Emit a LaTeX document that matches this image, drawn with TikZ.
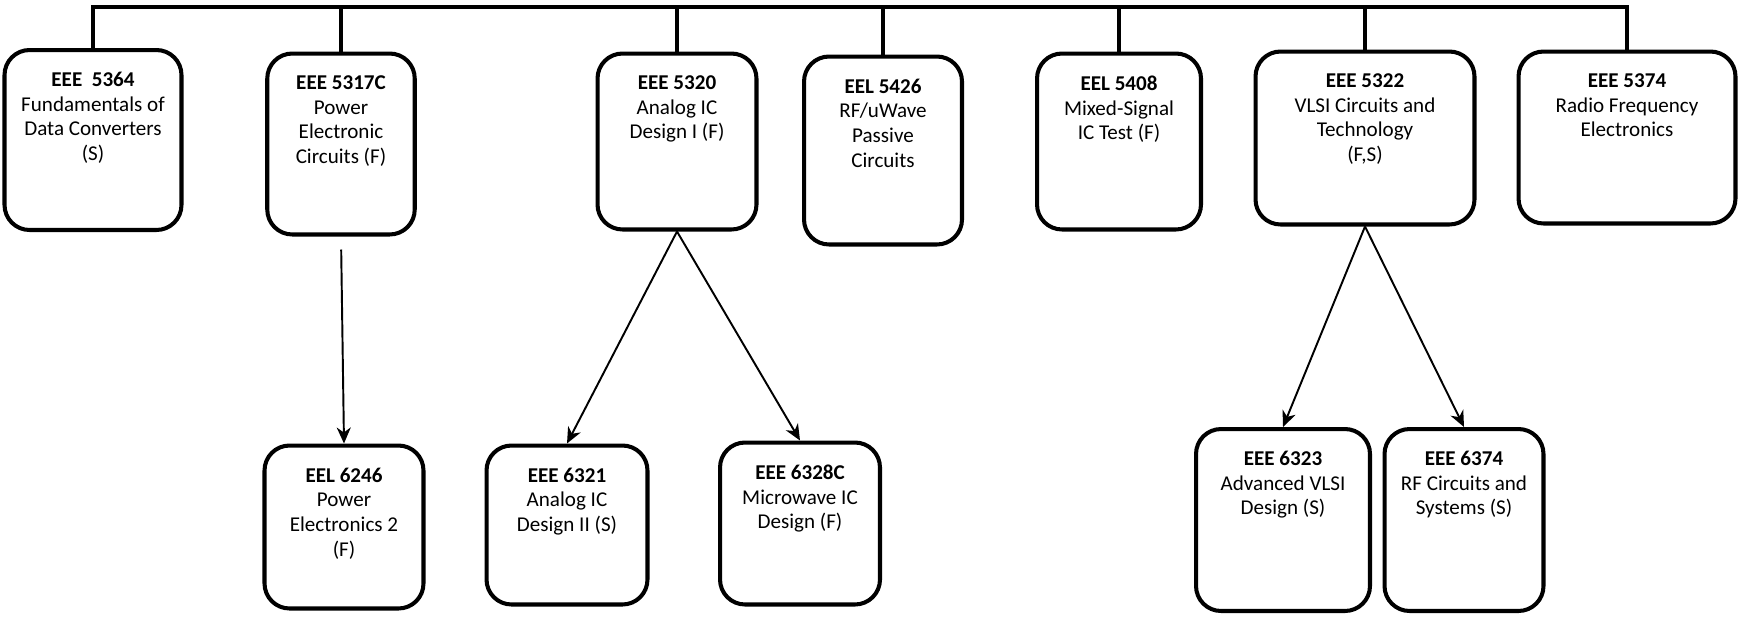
\documentclass[tikz,border=0pt]{standalone}
\usepackage{fontspec}
\setmainfont{Carlito}
\usetikzlibrary{arrows.meta}
\tikzset{
  course/.style={draw, line width=2.3pt, rounded corners=0.5cm, inner sep=0pt},
  ctext/.style={anchor=north, align=center, inner sep=0pt, yshift=-0.48cm,
    font=\fontsize{12pt}{14pt}\selectfont},
  bus/.style={line width=1.8pt},
  prereq/.style={line width=1.1pt, -{Stealth[length=0.32cm, width=0.28cm, inset=0.1cm]}}
}

\begin{document}
\begin{tikzpicture}[x=0.02cm, y=-0.02cm]
			%%%%% START %%%%%
			\useasboundingbox (0, 0) rectangle (1740, 616);
			\coordinate (top) at (0, 7);
			
			% first row
			\node[course, minimum width=3.54cm, minimum height=3.6cm,
			  label={[ctext]north:\textbf{EEE\ \ 5364}\\Fundamentals of\\Data Converters\\(S)}] (c5364) at (93, 140) {};
			\node[course, minimum width=2.95cm, minimum height=3.62cm,
			  label={[ctext]north:\textbf{EEE 5317C}\\Power\\Electronic\\Circuits (F)}] (c5317) at (341, 144) {};
			\node[course, minimum width=3.18cm, minimum height=3.52cm,
			  label={[ctext]north:\textbf{EEE 5320}\\Analog IC\\Design I (F)}] (c5320) at (677, 141.5) {};
			\node[course, minimum width=3.16cm, minimum height=3.76cm,
			  label={[ctext]north:\textbf{EEL 5426}\\RF/uWave\\Passive\\Circuits}] (c5426) at (883, 150.5) {};
			\node[course, minimum width=3.28cm, minimum height=3.52cm,
			  label={[ctext]north:\textbf{EEL 5408}\\Mixed-Signal\\IC Test (F)}] (c5408) at (1119, 141.5) {};
			\node[course, minimum width=4.38cm, minimum height=3.46cm,
			  label={[ctext]north:\textbf{EEE 5322}\\VLSI Circuits and\\Technology\\(F,S)}] (c5322) at (1365, 138) {};
			\node[course, minimum width=4.34cm, minimum height=3.44cm,
			  label={[ctext]north:\textbf{EEE 5374}\\Radio Frequency\\Electronics}] (c5374) at (1627, 137.5) {};
			
			% second row
			\node[course, minimum width=3.18cm, minimum height=3.26cm,
			  label={[ctext]north:\textbf{EEL 6246}\\Power\\Electronics 2\\(F)}] (c6246) at (344, 527) {};
			\node[course, minimum width=3.22cm, minimum height=3.18cm,
			  label={[ctext]north:\textbf{EEE 6321}\\Analog IC\\Design II (S)}] (c6321) at (567, 525) {};
			\node[course, minimum width=3.2cm, minimum height=3.24cm,
			  label={[ctext]north:\textbf{EEE 6328C}\\Microwave IC\\Design (F)}] (c6328) at (800, 523.5) {};
			\node[course, minimum width=3.48cm, minimum height=3.64cm,
			  label={[ctext]north:\textbf{EEE 6323}\\Advanced VLSI\\Design (S)}] (c6323) at (1283, 520) {};
			\node[course, minimum width=3.18cm, minimum height=3.64cm,
			  label={[ctext]north:\textbf{EEE 6374}\\RF Circuits and\\Systems (S)}] (c6374) at (1464, 520) {};
			
			% top bar
			\draw[bus] (c5364.north) -- (c5364.north |- top) -- (c5374.north |- top) -- (c5374.north);
			\draw[bus] (c5317.north) -- (c5317.north |- top);
			\draw[bus] (c5320.north) -- (c5320.north |- top);
			\draw[bus] (c5426.north) -- (c5426.north |- top);
			\draw[bus] (c5408.north) -- (c5408.north |- top);
			\draw[bus] (c5322.north) -- (c5322.north |- top);
			
			% arrows
			\draw[prereq, shorten <=0.26cm] (c5317.south) -- (c6246.north);
			\draw[prereq] (c5320.south) -- (c6321.north);
			\draw[prereq] (c5320.south) -- (c6328.north);
			\draw[prereq] (c5322.south) -- (c6323.north);
			\draw[prereq] (c5322.south) -- (c6374.north);
			%%%%% END %%%%%
\end{tikzpicture}
\end{document}
